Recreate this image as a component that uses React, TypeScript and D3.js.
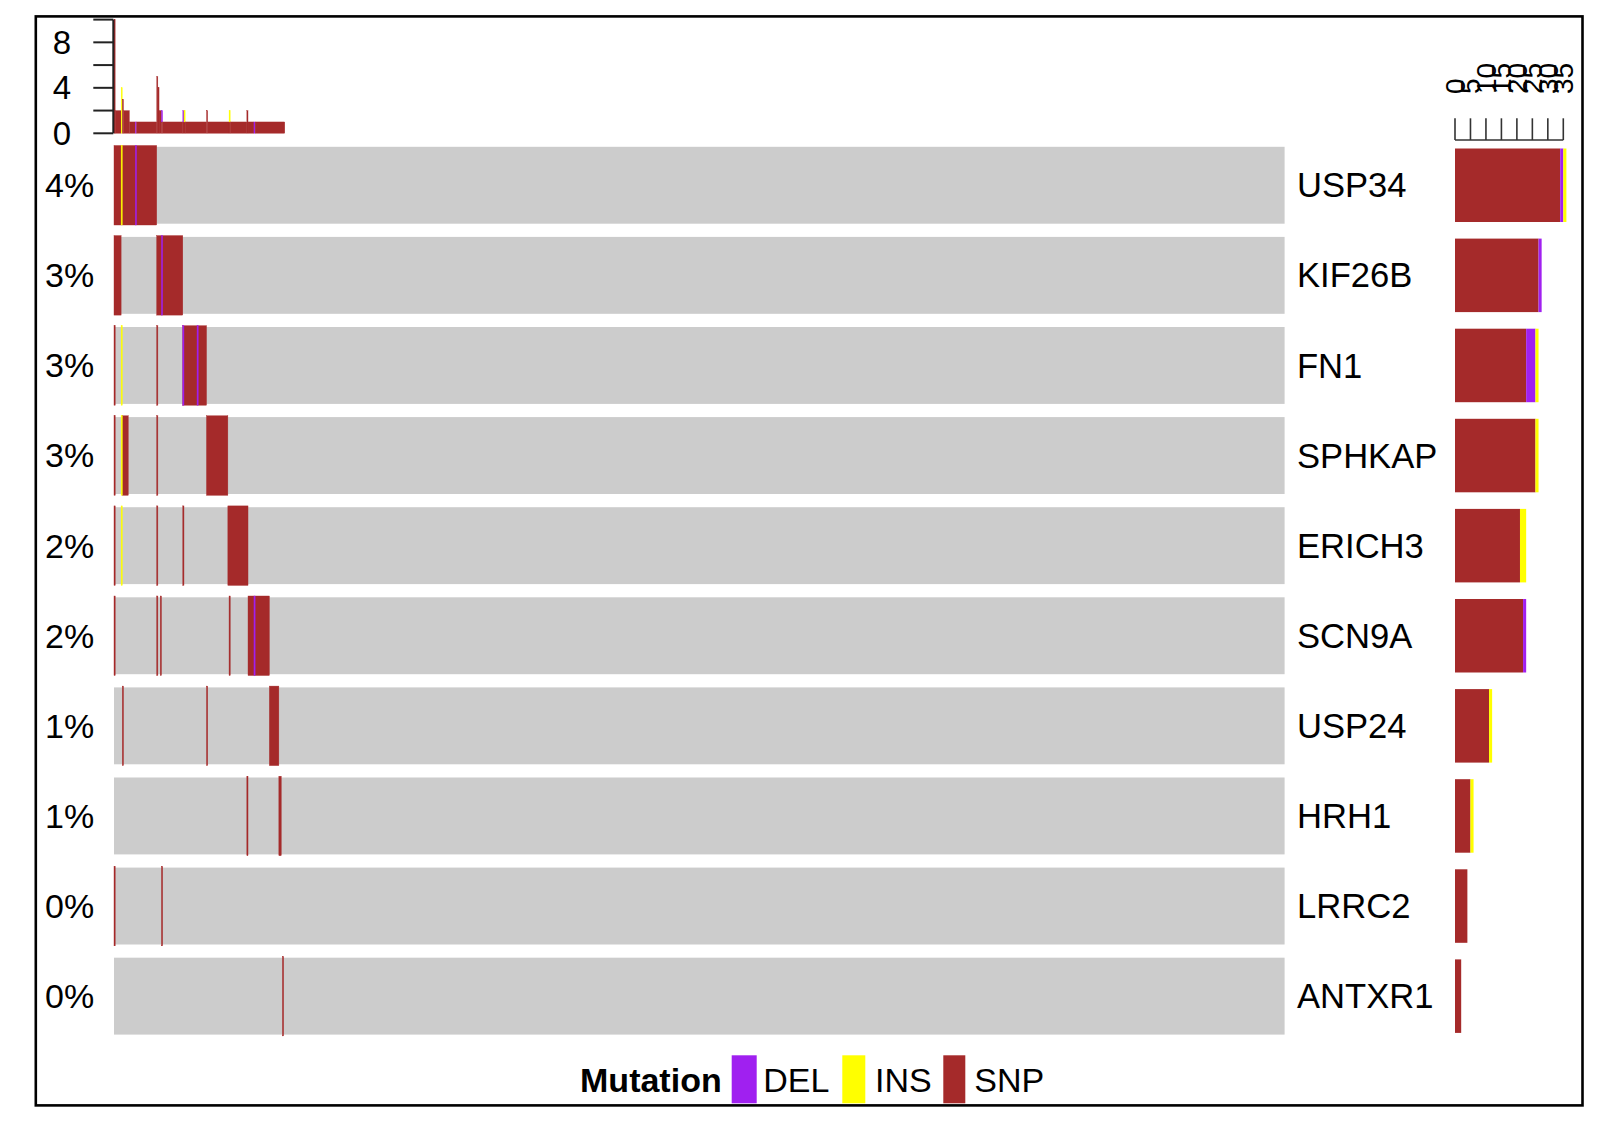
import React from "react";
import * as d3 from "d3";

// ---------------- data ----------------
const genes = ["USP34", "KIF26B", "FN1", "SPHKAP", "ERICH3", "SCN9A", "USP24", "HRH1", "LRRC2", "ANTXR1"];
const percentLabels = ["4%", "3%", "3%", "3%", "2%", "2%", "1%", "1%", "0%", "0%"];
// right bar chart (counts per gene, by variant type)
const snpCounts = [34, 27, 23, 26, 21, 22, 11, 5, 4, 2];
const delCounts = [1, 1, 3, 0, 0, 1, 0, 0, 0, 0];
const insCounts = [1, 0, 1, 1, 2, 0, 1, 1, 0, 0];
const rightTicks = [0, 5, 10, 15, 20, 25, 30, 35];
// top bar chart axis
const topTicks = [0, 2, 4, 6, 8, 10];
const topTickLabels = [0, 4, 8];
const sampleCount = 987;
const legendTypes = ["DEL", "INS", "SNP"];
const variantColors: Record<string, string> = { DEL: "#A020F0", INS: "#FFFF00", SNP: "#A52A2A" };

// oncoplot matrix: per gene, runs of mutated samples [first, last, type]
const usp34Runs = [[0, 35, "SNP"], [6, 6, "INS"], [18, 18, "DEL"]];
const kif26bRuns = [[0, 5, "SNP"], [36, 57, "SNP"], [40, 40, "DEL"]];
const fn1Runs = [[0, 0, "SNP"], [6, 6, "INS"], [36, 36, "SNP"], [58, 77, "SNP"], [58, 58, "DEL"], [70, 70, "DEL"]];
const sphkapRuns = [[0, 0, "SNP"], [6, 6, "INS"], [7, 11, "SNP"], [36, 36, "SNP"], [78, 95, "SNP"]];
const erich3Runs = [[0, 0, "SNP"], [6, 6, "INS"], [36, 36, "SNP"], [58, 58, "SNP"], [96, 112, "SNP"]];
const scn9aRuns = [[0, 0, "SNP"], [36, 36, "SNP"], [39, 39, "SNP"], [97, 97, "SNP"], [113, 130, "SNP"], [118, 118, "DEL"]];
const usp24Runs = [[7, 7, "SNP"], [78, 78, "SNP"], [131, 138, "SNP"]];
const hrh1Runs = [[112, 112, "SNP"], [139, 140, "SNP"]];
const lrrc2Runs = [[0, 0, "SNP"], [40, 40, "SNP"]];
const antxr1Runs = [[142, 142, "SNP"]];
const geneRuns = [usp34Runs, kif26bRuns, fn1Runs, sphkapRuns, erich3Runs, scn9aRuns, usp24Runs, hrh1Runs, lrrc2Runs, antxr1Runs];

// top bar chart: per-sample mutation burden runs [first, last, snp, del, ins]
const sampleBurden = [
  [0, 0, 10, 0, 0],
  [1, 5, 2, 0, 0],
  [6, 6, 0, 0, 4],
  [7, 7, 3, 0, 0],
  [8, 12, 2, 0, 0],
  [13, 17, 1, 0, 0],
  [18, 18, 0, 1, 0],
  [19, 35, 1, 0, 0],
  [36, 36, 5, 0, 0],
  [37, 37, 4, 0, 0],
  [38, 39, 2, 0, 0],
  [40, 40, 1, 1, 0],
  [41, 57, 1, 0, 0],
  [58, 58, 1, 1, 0],
  [59, 59, 1, 0, 1],
  [60, 77, 1, 0, 0],
  [78, 78, 2, 0, 0],
  [79, 96, 1, 0, 0],
  [97, 97, 1, 0, 1],
  [98, 111, 1, 0, 0],
  [112, 112, 2, 0, 0],
  [113, 117, 1, 0, 0],
  [118, 118, 0, 1, 0],
  [119, 143, 1, 0, 0],
];

// ---------------- component ----------------
const FONT = "'Liberation Sans', Arial, sans-serif";

export default function App() {
  const W = 1605, H = 1143;
  const xS = d3.scaleLinear().domain([0, sampleCount]).range([114, 1284.6]);
  const rowS = d3.scaleBand<string>().domain(genes).range([145.5, 1035.9]).paddingInner(0.1176).paddingOuter(0);
  const bw = rowS.bandwidth();
  const yTop = d3.scaleLinear().domain([0, 10]).range([133.3, 19.6]);
  const xR = d3.scaleLinear().domain([0, 35]).range([1455, 1563.3]);

  const cells: JSX.Element[] = [];
  genes.forEach((g, gi) => {
    const y0 = rowS(g)!;
    const runs = [...geneRuns[gi]].sort((a, b) => (a[2] === "SNP" ? 0 : 1) - (b[2] === "SNP" ? 0 : 1));
    runs.forEach((r, ri) => {
      const s = r[0] as number, e = r[1] as number, t = r[2] as string;
      cells.push(
        <rect key={`c${gi}-${ri}`} x={xS(s)} y={y0} width={xS(e + 1) - xS(s)} height={bw}
          fill={variantColors[t]} stroke={variantColors[t]} strokeWidth={0.4} />
      );
    });
  });

  const topBars: JSX.Element[] = [];
  sampleBurden.forEach((b, bi) => {
    const [s, e, snp, del, ins] = b as number[];
    const parts: [string, number][] = [["SNP", snp], ["DEL", del], ["INS", ins]];
    let acc = 0;
    parts.forEach(([t, v], pi) => {
      if (v <= 0) return;
      topBars.push(
        <rect key={`t${bi}-${pi}`} x={xS(s)} y={yTop(acc + v)} width={xS(e + 1) - xS(s)}
          height={yTop(acc) - yTop(acc + v)} fill={variantColors[t]} stroke={variantColors[t]} strokeWidth={0.3} />
      );
      acc += v;
    });
  });

  const rightBars: JSX.Element[] = [];
  genes.forEach((g, gi) => {
    const y0 = rowS(g)! + 3;
    const h = bw - 6;
    const parts: [string, number][] = [["SNP", snpCounts[gi]], ["DEL", delCounts[gi]], ["INS", insCounts[gi]]];
    let acc = 0;
    parts.forEach(([t, v], pi) => {
      if (v <= 0) return;
      rightBars.push(
        <rect key={`r${gi}-${pi}`} x={xR(acc)} y={y0} width={xR(acc + v) - xR(acc)} height={h} fill={variantColors[t]} />
      );
      acc += v;
    });
  });

  const legendX = [[731.7, 25, 763.3], [842.3, 23, 875], [943.3, 22, 974.3]];

  return (
    <svg width={W} height={H} style={{ position: "absolute", left: 0, top: 0, background: "#fff" }} fontFamily={FONT}>
      <rect x={0} y={0} width={W} height={H} fill="#fff" />
      {/* frame */}
      <rect x={35.8} y={16.4} width={1546.7} height={1089} fill="none" stroke="#000" strokeWidth={2.6} />

      {/* gray background rows */}
      {genes.map((g) => (
        <rect key={`bg${g}`} x={xS(0)} y={rowS(g)! + 1.3} width={xS(sampleCount) - xS(0)} height={bw - 2.6} fill="#CCCCCC" />
      ))}
      {cells}

      {/* percentages */}
      {genes.map((g, i) => (
        <text key={`p${g}`} x={45} y={rowS(g)! + bw / 2} dy="0.35em" fontSize={34} fill="#000">{percentLabels[i]}</text>
      ))}
      {/* gene names */}
      {genes.map((g) => (
        <text key={`g${g}`} x={1297} y={rowS(g)! + bw / 2} dy="0.35em" fontSize={34.6} fill="#000">{g}</text>
      ))}

      {/* top bar chart */}
      {topBars}
      <line x1={113.3} x2={113.3} y1={yTop(10)} y2={yTop(0)} stroke="#222" strokeWidth={2} />
      {topTicks.map((t) => (
        <line key={`tt${t}`} x1={93.3} x2={113.3} y1={yTop(t)} y2={yTop(t)} stroke="#222" strokeWidth={2} />
      ))}
      {topTickLabels.map((t) => (
        <text key={`tl${t}`} x={62} y={yTop(t)} dy="0.35em" textAnchor="middle" fontSize={33} fill="#000">{t}</text>
      ))}

      {/* right bar chart */}
      {rightBars}
      <line x1={xR(0)} x2={xR(35)} y1={140} y2={140} stroke="#333" strokeWidth={1.6} />
      {rightTicks.map((t) => (
        <line key={`rt${t}`} x1={xR(t)} x2={xR(t)} y1={118.3} y2={140} stroke="#333" strokeWidth={1.6} />
      ))}
      {rightTicks.map((t) => (
        <text key={`rl${t}`} transform={`translate(${xR(t)},94) rotate(-90)`} dy="0.35em" fontSize={28} fill="#000">{t}</text>
      ))}

      {/* legend */}
      <text x={721.7} y={1092} fontSize={34} fontWeight="bold" textAnchor="end" fill="#000">Mutation</text>
      {legendTypes.map((t, i) => (
        <g key={`lg${t}`}>
          <rect x={legendX[i][0]} y={1055.3} width={legendX[i][1]} height={48} fill={variantColors[t]} />
          <text x={legendX[i][2]} y={1092} fontSize={34} fill="#000">{t}</text>
        </g>
      ))}
    </svg>
  );
}
